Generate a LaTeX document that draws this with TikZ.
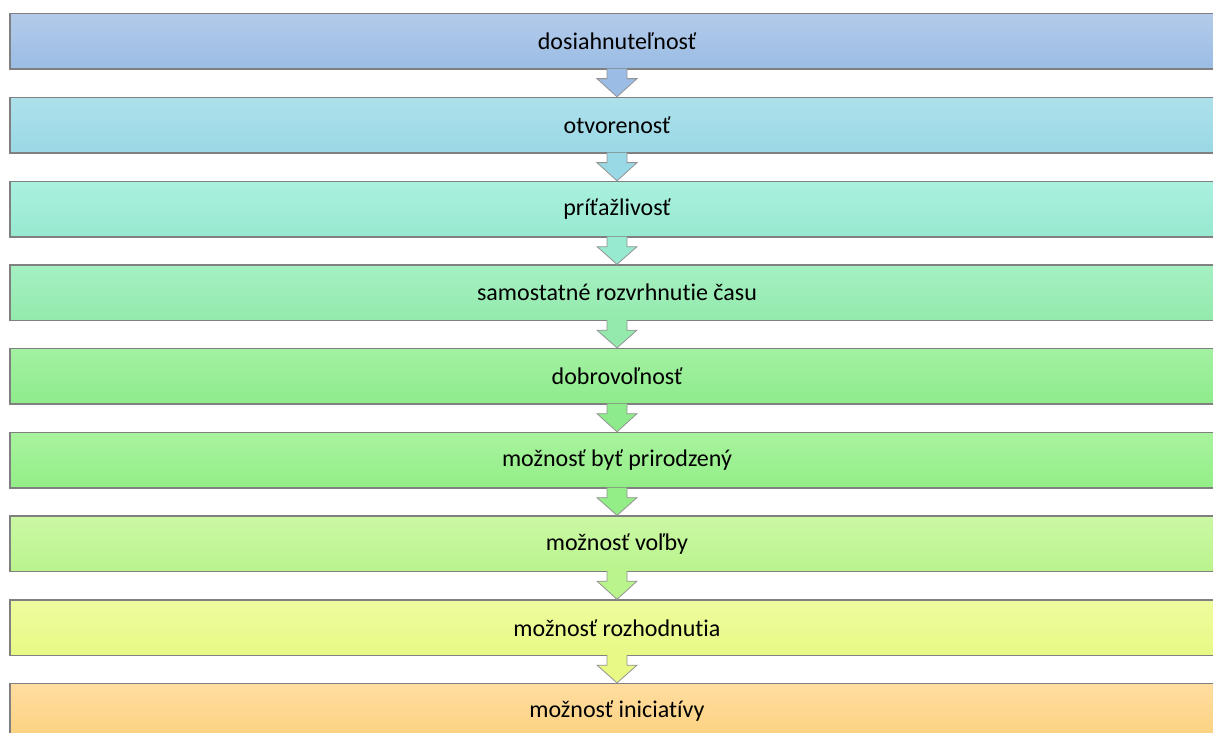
\documentclass[tikz,border=0pt]{standalone}
\usepackage{fontspec}
\setmainfont[Ligatures={NoCommon}]{Carlito}
\usetikzlibrary{calc}
\definecolor{edgegrey}{HTML}{808080}
\definecolor{ta}{HTML}{B3CBEA}\definecolor{ba}{HTML}{9BBCE4}
\definecolor{tb}{HTML}{ADE1EB}\definecolor{bb}{HTML}{99D8E5}
\definecolor{tc}{HTML}{AAF0DF}\definecolor{bc}{HTML}{97E9D0}
\definecolor{td}{HTML}{A5F0C2}\definecolor{bd}{HTML}{93EAAC}
\definecolor{te}{HTML}{A3F1A2}\definecolor{be}{HTML}{8EEB8B}
\definecolor{tf}{HTML}{A8F39E}\definecolor{bf}{HTML}{93EE87}
\definecolor{tg}{HTML}{CBF8A4}\definecolor{bg}{HTML}{BAF48D}
\definecolor{th}{HTML}{EFFC9E}\definecolor{bh}{HTML}{E8F985}
\definecolor{ti}{HTML}{FEDDA0}\definecolor{bi}{HTML}{FDD27F}
\tikzset{
  flowbox/.style={draw=edgegrey, line width=1.3pt, minimum width=1214pt, minimum height=55.5pt,
    inner sep=0pt, font=\fontsize{24}{28}\selectfont, text=black},
  downarrow/.style={draw=edgegrey!85, line width=0.8pt, line join=miter}
}
\begin{document}
\begin{tikzpicture}[x=1pt,y=-1pt]
\useasboundingbox (0,0) rectangle (1213,733);
\clip (0,0) rectangle (1213,733);
\foreach \n/\t/\txt/\ct/\cb in {
  1/13.5/dosiahnuteľnosť/ta/ba,
  2/97.5/otvorenosť/tb/bb,
  3/181.5/príťažlivosť/tc/bc,
  4/265/samostatné rozvrhnutie času/td/bd,
  5/348.5/dobrovoľnosť/te/be,
  6/432.5/možnosť byť prirodzený/tf/bf,
  7/516/možnosť voľby/tg/bg,
  8/600/možnosť rozhodnutia/th/bh,
  9/683.5/možnosť iniciatívy/ti/bi}{
  \node[flowbox, top color=\ct, bottom color=\cb] (b\n) at (617,\t+27.75) {\txt};
}
\foreach \a/\b/\c in {1/2/ba,2/3/bb,3/4/bc,4/5/bd,5/6/be,6/7/bf,7/8/bg,8/9/bh}{
  \path[downarrow, fill=\c]
    ($(b\a.south)+(-10,-1)$) -- ($(b\a.south)+(-10,9)$) -- ($(b\a.south)+(-20,9)$)
    -- (b\b.north) -- ($(b\a.south)+(20,9)$) -- ($(b\a.south)+(10,9)$)
    -- ($(b\a.south)+(10,-1)$);
}
\end{tikzpicture}
\end{document}
